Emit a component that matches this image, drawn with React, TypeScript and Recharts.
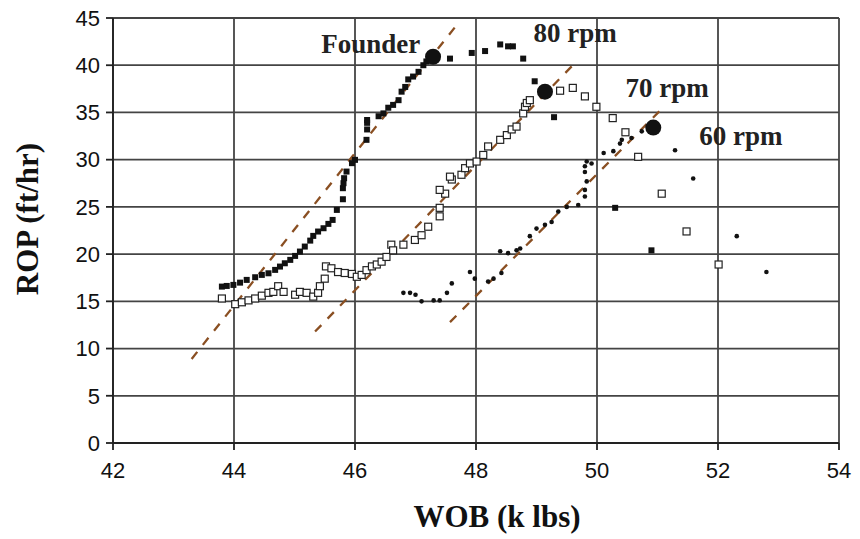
import React from "react";
import {
  ScatterChart,
  Scatter,
  XAxis,
  YAxis,
  CartesianGrid,
  ReferenceDot,
} from "recharts";

interface Pt {
  x: number;
  y: number;
}

// 80 rpm - filled squares
const rpm80: Pt[] = [
  { x: 43.8, y: 16.56 }, { x: 43.88, y: 16.63 }, { x: 43.99, y: 16.74 },
  { x: 44.1, y: 16.98 }, { x: 44.21, y: 17.27 }, { x: 44.35, y: 17.55 },
  { x: 44.46, y: 17.8 }, { x: 44.57, y: 17.97 }, { x: 44.68, y: 18.33 },
  { x: 44.76, y: 18.68 }, { x: 44.84, y: 19.03 }, { x: 44.93, y: 19.39 },
  { x: 45.01, y: 19.81 }, { x: 45.09, y: 20.27 }, { x: 45.17, y: 20.8 },
  { x: 45.26, y: 21.43 }, { x: 45.31, y: 21.93 }, { x: 45.39, y: 22.39 },
  { x: 45.48, y: 22.74 }, { x: 45.56, y: 23.2 }, { x: 45.63, y: 23.62 },
  { x: 45.7, y: 24.68 }, { x: 45.8, y: 25.81 }, { x: 45.8, y: 26.98 },
  { x: 45.81, y: 27.51 }, { x: 45.82, y: 28.04 }, { x: 45.86, y: 28.74 },
  { x: 45.95, y: 29.63 }, { x: 46.0, y: 29.98 }, { x: 46.19, y: 32.1 },
  { x: 46.2, y: 33.2 }, { x: 46.2, y: 33.9 }, { x: 46.2, y: 34.2 },
  { x: 46.39, y: 34.6 }, { x: 46.47, y: 34.9 }, { x: 46.55, y: 35.5 },
  { x: 46.63, y: 35.8 }, { x: 46.72, y: 36.3 }, { x: 46.77, y: 37.2 },
  { x: 46.83, y: 37.7 }, { x: 46.88, y: 38.5 }, { x: 46.96, y: 38.8 },
  { x: 47.05, y: 39.3 }, { x: 47.13, y: 40.0 }, { x: 47.18, y: 40.4 },
  { x: 47.57, y: 40.7 }, { x: 47.93, y: 41.3 }, { x: 48.15, y: 41.5 },
  { x: 48.4, y: 42.2 }, { x: 48.53, y: 42.0 }, { x: 48.61, y: 42.0 },
  { x: 48.78, y: 40.7 }, { x: 48.97, y: 38.3 }, { x: 49.29, y: 34.5 },
  { x: 50.3, y: 24.9 }, { x: 50.9, y: 20.4 },
];

// 70 rpm - hollow squares
const rpm70: Pt[] = [
  { x: 43.8, y: 15.3 }, { x: 44.02, y: 14.7 }, { x: 44.13, y: 14.9 },
  { x: 44.24, y: 15.1 }, { x: 44.35, y: 15.3 }, { x: 44.46, y: 15.6 },
  { x: 44.57, y: 15.9 }, { x: 44.65, y: 16.0 }, { x: 44.73, y: 16.6 },
  { x: 44.82, y: 16.0 }, { x: 45.01, y: 15.7 }, { x: 45.09, y: 16.0 },
  { x: 45.2, y: 15.9 }, { x: 45.31, y: 15.5 }, { x: 45.39, y: 15.9 },
  { x: 45.42, y: 16.6 }, { x: 45.5, y: 17.4 }, { x: 45.52, y: 18.7 },
  { x: 45.61, y: 18.5 }, { x: 45.72, y: 18.1 }, { x: 45.83, y: 18.0 },
  { x: 45.95, y: 17.9 }, { x: 46.03, y: 17.6 }, { x: 46.11, y: 17.8 },
  { x: 46.19, y: 18.3 }, { x: 46.28, y: 18.7 }, { x: 46.36, y: 18.9 },
  { x: 46.44, y: 19.2 }, { x: 46.52, y: 19.7 }, { x: 46.6, y: 21.0 },
  { x: 46.63, y: 20.4 }, { x: 46.8, y: 21.0 }, { x: 46.99, y: 21.5 },
  { x: 47.1, y: 22.0 }, { x: 47.21, y: 22.9 }, { x: 47.4, y: 24.0 },
  { x: 47.4, y: 24.9 }, { x: 47.49, y: 26.4 }, { x: 47.4, y: 26.8 },
  { x: 47.6, y: 27.9 }, { x: 47.57, y: 28.2 }, { x: 47.76, y: 28.4 },
  { x: 47.82, y: 29.1 }, { x: 47.9, y: 29.6 }, { x: 48.01, y: 29.8 },
  { x: 48.12, y: 30.5 }, { x: 48.2, y: 31.4 }, { x: 48.4, y: 32.1 },
  { x: 48.51, y: 32.6 }, { x: 48.59, y: 33.2 }, { x: 48.67, y: 33.5 },
  { x: 48.78, y: 34.9 }, { x: 48.81, y: 35.6 }, { x: 48.84, y: 36.0 },
  { x: 48.89, y: 36.3 }, { x: 49.39, y: 37.3 }, { x: 49.6, y: 37.6 },
  { x: 49.8, y: 36.7 }, { x: 49.99, y: 35.6 }, { x: 50.26, y: 34.4 },
  { x: 50.47, y: 32.9 }, { x: 50.68, y: 30.3 }, { x: 51.07, y: 26.4 },
  { x: 51.48, y: 22.4 }, { x: 52.01, y: 18.9 },
];

// 60 rpm - small dots
const rpm60: Pt[] = [
  { x: 46.8, y: 15.9 }, { x: 46.91, y: 15.9 }, { x: 47.0, y: 15.7 },
  { x: 47.1, y: 15.0 }, { x: 47.3, y: 15.1 }, { x: 47.4, y: 15.1 },
  { x: 47.52, y: 15.9 }, { x: 47.6, y: 16.9 }, { x: 47.9, y: 18.1 },
  { x: 47.98, y: 17.4 }, { x: 48.2, y: 17.1 }, { x: 48.29, y: 17.4 },
  { x: 48.42, y: 18.0 }, { x: 48.4, y: 20.3 }, { x: 48.53, y: 20.1 },
  { x: 48.67, y: 20.4 }, { x: 48.73, y: 20.6 }, { x: 48.89, y: 21.9 },
  { x: 49.0, y: 22.7 }, { x: 49.14, y: 23.1 }, { x: 49.25, y: 23.4 },
  { x: 49.36, y: 24.5 }, { x: 49.5, y: 25.0 }, { x: 49.69, y: 25.2 },
  { x: 49.8, y: 26.1 }, { x: 49.8, y: 26.8 }, { x: 49.83, y: 27.7 },
  { x: 49.8, y: 28.7 }, { x: 49.8, y: 29.3 }, { x: 49.83, y: 29.8 },
  { x: 49.91, y: 29.6 }, { x: 50.11, y: 30.7 }, { x: 50.27, y: 30.9 },
  { x: 50.38, y: 31.7 }, { x: 50.41, y: 32.1 }, { x: 50.57, y: 32.3 },
  { x: 50.74, y: 33.0 }, { x: 51.29, y: 31.0 }, { x: 51.59, y: 28.0 },
  { x: 52.31, y: 21.9 }, { x: 52.8, y: 18.1 },
];

// founder points (big dots)
const founder: Pt[] = [
  { x: 47.29, y: 40.9 },
  { x: 49.14, y: 37.2 },
  { x: 50.93, y: 33.4 },
];

// dashed trend lines
const trendA: Pt[] = [{ x: 43.3, y: 8.9 }, { x: 47.65, y: 44.0 }];
const trendB: Pt[] = [{ x: 45.34, y: 11.8 }, { x: 49.66, y: 40.4 }];
const trendC: Pt[] = [{ x: 47.57, y: 12.8 }, { x: 51.09, y: 35.5 }];

const xTicks = [42, 44, 46, 48, 50, 52, 54];
const yTicks = [0, 5, 10, 15, 20, 25, 30, 35, 40, 45];

const notes = [
  { x: 46.26, y: 42.33, text: "Founder" },
  { x: 49.64, y: 43.5, text: "80 rpm" },
  { x: 51.16, y: 37.65, text: "70 rpm" },
  { x: 52.38, y: 32.58, text: "60 rpm" },
];

const serif = "'Liberation Serif', 'Times New Roman', serif";
const sans = "'Liberation Sans', Arial, sans-serif";

const FilledSquare = (p: any) => (
  <rect x={p.cx - 3} y={p.cy - 3} width={6} height={6} fill="#111" />
);
const HollowSquare = (p: any) => (
  <rect x={p.cx - 3.5} y={p.cy - 3.5} width={7} height={7} fill="#fff" stroke="#222" strokeWidth={1.2} />
);
const SmallDot = (p: any) => <circle cx={p.cx} cy={p.cy} r={2.3} fill="#111" />;
const BigDot = (p: any) => <circle cx={p.cx} cy={p.cy} r={8} fill="#111" />;
const NoDot = () => <g />;

const dash = { stroke: "#8a4f22", strokeWidth: 2.3, strokeDasharray: "9 9" };

export default function App() {
  return (
    <div style={{ position: "absolute", left: 0, top: 0, width: 860, height: 539, background: "#fff" }}>
      <ScatterChart
        width={860}
        height={539}
        margin={{ top: 18, right: 21, bottom: 0, left: 0 }}
      >
        <CartesianGrid stroke="#444" strokeWidth={1.8} />
        <XAxis
          type="number"
          dataKey="x"
          domain={[42, 54]}
          ticks={xTicks}
          height={96}
          tickSize={7}
          tickMargin={12}
          stroke="#222"
          strokeWidth={1.8}
          tick={{ fill: "#111", fontSize: 22, fontFamily: sans }}
          allowDataOverflow
        />
        <YAxis
          type="number"
          dataKey="y"
          domain={[0, 45]}
          ticks={yTicks}
          width={113}
          tickSize={7}
          tickMargin={6}
          stroke="#222"
          strokeWidth={1.8}
          tick={{ fill: "#111", fontSize: 22, fontFamily: sans }}
          allowDataOverflow
        />
        <Scatter data={trendA} line={dash} lineType="joint" shape={NoDot} isAnimationActive={false} />
        <Scatter data={trendB} line={dash} lineType="joint" shape={NoDot} isAnimationActive={false} />
        <Scatter data={trendC} line={dash} lineType="joint" shape={NoDot} isAnimationActive={false} />
        <Scatter data={rpm70} shape={HollowSquare} isAnimationActive={false} />
        <Scatter data={rpm60} shape={SmallDot} isAnimationActive={false} />
        <Scatter data={rpm80} shape={FilledSquare} isAnimationActive={false} />
        <Scatter data={founder} shape={BigDot} isAnimationActive={false} />
        {notes.map((n) => (
          <ReferenceDot
            key={n.text}
            x={n.x}
            y={n.y}
            r={0}
            fill="none"
            stroke="none"
            label={{
              value: n.text,
              position: "center",
              fill: "#222",
              fontSize: 27,
              fontWeight: "bold",
              fontFamily: serif,
            }}
          />
        ))}
      </ScatterChart>
      <div
        style={{
          position: "absolute",
          left: 497,
          top: 517,
          transform: "translate(-50%, -50%)",
          fontFamily: serif,
          fontWeight: "bold",
          fontSize: 31,
          color: "#111",
          whiteSpace: "nowrap",
        }}
      >
        WOB (k lbs)
      </div>
      <div
        style={{
          position: "absolute",
          left: 28,
          top: 219,
          transform: "translate(-50%, -50%) rotate(-90deg)",
          fontFamily: serif,
          fontWeight: "bold",
          fontSize: 31,
          color: "#111",
          whiteSpace: "nowrap",
        }}
      >
        ROP (ft/hr)
      </div>
    </div>
  );
}
